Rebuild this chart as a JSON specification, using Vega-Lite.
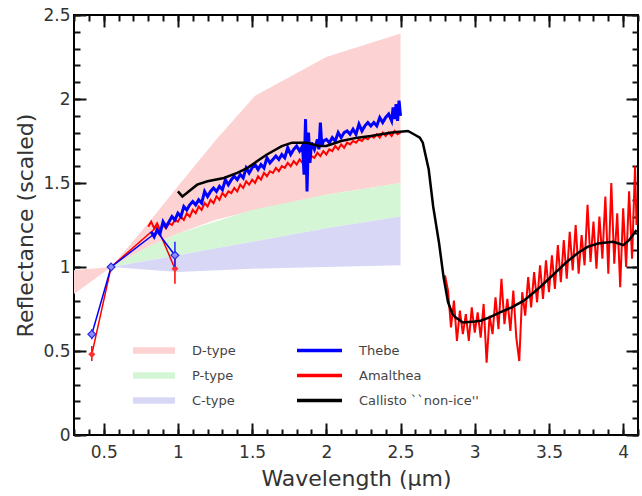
{
"$schema": "https://vega.github.io/schema/vega-lite/v6.json",
"width": 564, "height": 420,
"autosize": "none",
"padding": {"left": 74, "top": 15, "right": 4, "bottom": 61},
"config": {"view": {"stroke": "black", "strokeWidth": 2}},
"resolve": {"axis": {"x": "independent", "y": "independent"}},
"datasets": {
"bands": [
{"type":"D-type","x":0.30,"lo":0.84,"hi":0.98},
{"type":"D-type","x":0.55,"lo":1.0,"hi":1.0},
{"type":"D-type","x":0.8,"lo":1.12,"hi":1.26},
{"type":"D-type","x":1.0,"lo":1.2,"hi":1.48},
{"type":"D-type","x":1.25,"lo":1.28,"hi":1.75},
{"type":"D-type","x":1.52,"lo":1.34,"hi":2.02},
{"type":"D-type","x":2.0,"lo":1.43,"hi":2.25},
{"type":"D-type","x":2.5,"lo":1.5,"hi":2.39},
{"type":"P-type","x":0.55,"lo":1.0,"hi":1.0},
{"type":"P-type","x":0.8,"lo":1.04,"hi":1.12},
{"type":"P-type","x":1.0,"lo":1.07,"hi":1.2},
{"type":"P-type","x":1.5,"lo":1.15,"hi":1.34},
{"type":"P-type","x":2.0,"lo":1.23,"hi":1.43},
{"type":"P-type","x":2.5,"lo":1.3,"hi":1.5},
{"type":"C-type","x":0.55,"lo":1.0,"hi":1.0},
{"type":"C-type","x":1.0,"lo":0.97,"hi":1.07},
{"type":"C-type","x":1.5,"lo":0.99,"hi":1.15},
{"type":"C-type","x":2.0,"lo":1.0,"hi":1.23},
{"type":"C-type","x":2.5,"lo":1.01,"hi":1.3}
],
"spec": [
{"series":"Thebe","part":"bb","x":0.42,"y":0.6},
{"series":"Thebe","part":"bb","x":0.55,"y":1.0},
{"series":"Thebe","part":"bb","x":0.86,"y":1.21},
{"series":"Thebe","part":"bb","x":0.98,"y":1.07},
{"series":"Amalthea","part":"bb","x":0.42,"y":0.48},
{"series":"Amalthea","part":"bb","x":0.55,"y":1.0},
{"series":"Amalthea","part":"bb","x":0.86,"y":1.24},
{"series":"Amalthea","part":"bb","x":0.98,"y":0.99},
{"series":"Thebe","part":"s","x":0.82,"y":1.21},{"series":"Thebe","part":"s","x":0.84,"y":1.18},{"series":"Thebe","part":"s","x":0.86,"y":1.22},{"series":"Thebe","part":"s","x":0.88,"y":1.20},{"series":"Thebe","part":"s","x":0.90,"y":1.27},{"series":"Thebe","part":"s","x":0.92,"y":1.24},{"series":"Thebe","part":"s","x":0.94,"y":1.27},{"series":"Thebe","part":"s","x":0.96,"y":1.30},{"series":"Thebe","part":"s","x":0.98,"y":1.28},{"series":"Thebe","part":"s","x":1.00,"y":1.32},{"series":"Thebe","part":"s","x":1.02,"y":1.30},{"series":"Thebe","part":"s","x":1.04,"y":1.36},{"series":"Thebe","part":"s","x":1.06,"y":1.34},{"series":"Thebe","part":"s","x":1.08,"y":1.37},{"series":"Thebe","part":"s","x":1.10,"y":1.39},{"series":"Thebe","part":"s","x":1.12,"y":1.37},{"series":"Thebe","part":"s","x":1.14,"y":1.40},{"series":"Thebe","part":"s","x":1.16,"y":1.38},{"series":"Thebe","part":"s","x":1.18,"y":1.45},{"series":"Thebe","part":"s","x":1.20,"y":1.42},{"series":"Thebe","part":"s","x":1.22,"y":1.45},{"series":"Thebe","part":"s","x":1.24,"y":1.47},{"series":"Thebe","part":"s","x":1.26,"y":1.45},{"series":"Thebe","part":"s","x":1.28,"y":1.48},{"series":"Thebe","part":"s","x":1.30,"y":1.46},{"series":"Thebe","part":"s","x":1.32,"y":1.52},{"series":"Thebe","part":"s","x":1.34,"y":1.49},{"series":"Thebe","part":"s","x":1.36,"y":1.52},{"series":"Thebe","part":"s","x":1.38,"y":1.54},{"series":"Thebe","part":"s","x":1.40,"y":1.52},{"series":"Thebe","part":"s","x":1.42,"y":1.55},{"series":"Thebe","part":"s","x":1.44,"y":1.53},{"series":"Thebe","part":"s","x":1.46,"y":1.59},{"series":"Thebe","part":"s","x":1.48,"y":1.56},{"series":"Thebe","part":"s","x":1.50,"y":1.59},{"series":"Thebe","part":"s","x":1.52,"y":1.61},{"series":"Thebe","part":"s","x":1.54,"y":1.58},{"series":"Thebe","part":"s","x":1.56,"y":1.61},{"series":"Thebe","part":"s","x":1.58,"y":1.59},{"series":"Thebe","part":"s","x":1.60,"y":1.65},{"series":"Thebe","part":"s","x":1.62,"y":1.62},{"series":"Thebe","part":"s","x":1.64,"y":1.64},{"series":"Thebe","part":"s","x":1.66,"y":1.66},{"series":"Thebe","part":"s","x":1.68,"y":1.64},{"series":"Thebe","part":"s","x":1.70,"y":1.67},{"series":"Thebe","part":"s","x":1.72,"y":1.65},{"series":"Thebe","part":"s","x":1.74,"y":1.71},{"series":"Thebe","part":"s","x":1.76,"y":1.67},{"series":"Thebe","part":"s","x":1.78,"y":1.70},{"series":"Thebe","part":"s","x":1.80,"y":1.72},{"series":"Thebe","part":"s","x":1.82,"y":1.69},{"series":"Thebe","part":"s","x":1.84,"y":1.72},{"series":"Thebe","part":"s","x":1.85,"y":1.55},{"series":"Thebe","part":"s","x":1.86,"y":1.88},{"series":"Thebe","part":"s","x":1.87,"y":1.45},{"series":"Thebe","part":"s","x":1.88,"y":1.80},{"series":"Thebe","part":"s","x":1.89,"y":1.62},{"series":"Thebe","part":"s","x":1.90,"y":1.74},{"series":"Thebe","part":"s","x":1.92,"y":1.70},{"series":"Thebe","part":"s","x":1.94,"y":1.76},{"series":"Thebe","part":"s","x":1.95,"y":1.70},{"series":"Thebe","part":"s","x":1.96,"y":1.86},{"series":"Thebe","part":"s","x":1.97,"y":1.72},{"series":"Thebe","part":"s","x":1.98,"y":1.75},{"series":"Thebe","part":"s","x":2.00,"y":1.76},{"series":"Thebe","part":"s","x":2.02,"y":1.74},{"series":"Thebe","part":"s","x":2.04,"y":1.77},{"series":"Thebe","part":"s","x":2.06,"y":1.75},{"series":"Thebe","part":"s","x":2.08,"y":1.80},{"series":"Thebe","part":"s","x":2.10,"y":1.77},{"series":"Thebe","part":"s","x":2.12,"y":1.80},{"series":"Thebe","part":"s","x":2.14,"y":1.81},{"series":"Thebe","part":"s","x":2.16,"y":1.79},{"series":"Thebe","part":"s","x":2.18,"y":1.82},{"series":"Thebe","part":"s","x":2.20,"y":1.79},{"series":"Thebe","part":"s","x":2.22,"y":1.85},{"series":"Thebe","part":"s","x":2.24,"y":1.81},{"series":"Thebe","part":"s","x":2.26,"y":1.84},{"series":"Thebe","part":"s","x":2.28,"y":1.86},{"series":"Thebe","part":"s","x":2.30,"y":1.84},{"series":"Thebe","part":"s","x":2.32,"y":1.86},{"series":"Thebe","part":"s","x":2.34,"y":1.84},{"series":"Thebe","part":"s","x":2.36,"y":1.89},{"series":"Thebe","part":"s","x":2.38,"y":1.86},{"series":"Thebe","part":"s","x":2.40,"y":1.89},{"series":"Thebe","part":"s","x":2.42,"y":1.91},{"series":"Thebe","part":"s","x":2.44,"y":1.87},{"series":"Thebe","part":"s","x":2.45,"y":1.95},{"series":"Thebe","part":"s","x":2.46,"y":1.88},{"series":"Thebe","part":"s","x":2.47,"y":1.97},{"series":"Thebe","part":"s","x":2.48,"y":1.87},{"series":"Thebe","part":"s","x":2.49,"y":1.99},{"series":"Thebe","part":"s","x":2.50,"y":1.90},
{"series":"Amalthea","part":"s1","x":0.80,"y":1.24},{"series":"Amalthea","part":"s1","x":0.82,"y":1.27},{"series":"Amalthea","part":"s1","x":0.84,"y":1.23},{"series":"Amalthea","part":"s1","x":0.86,"y":1.26},{"series":"Amalthea","part":"s1","x":0.88,"y":1.22},{"series":"Amalthea","part":"s1","x":0.90,"y":1.25},{"series":"Amalthea","part":"s1","x":0.92,"y":1.23},{"series":"Amalthea","part":"s1","x":0.94,"y":1.26},{"series":"Amalthea","part":"s1","x":0.96,"y":1.25},{"series":"Amalthea","part":"s1","x":0.98,"y":1.28},{"series":"Amalthea","part":"s1","x":1.00,"y":1.27},{"series":"Amalthea","part":"s1","x":1.02,"y":1.30},{"series":"Amalthea","part":"s1","x":1.04,"y":1.28},{"series":"Amalthea","part":"s1","x":1.06,"y":1.32},{"series":"Amalthea","part":"s1","x":1.08,"y":1.30},{"series":"Amalthea","part":"s1","x":1.10,"y":1.34},{"series":"Amalthea","part":"s1","x":1.12,"y":1.32},{"series":"Amalthea","part":"s1","x":1.14,"y":1.36},{"series":"Amalthea","part":"s1","x":1.16,"y":1.34},{"series":"Amalthea","part":"s1","x":1.18,"y":1.38},{"series":"Amalthea","part":"s1","x":1.20,"y":1.36},{"series":"Amalthea","part":"s1","x":1.22,"y":1.40},{"series":"Amalthea","part":"s1","x":1.24,"y":1.38},{"series":"Amalthea","part":"s1","x":1.26,"y":1.42},{"series":"Amalthea","part":"s1","x":1.28,"y":1.40},{"series":"Amalthea","part":"s1","x":1.30,"y":1.44},{"series":"Amalthea","part":"s1","x":1.32,"y":1.42},{"series":"Amalthea","part":"s1","x":1.34,"y":1.45},{"series":"Amalthea","part":"s1","x":1.36,"y":1.44},{"series":"Amalthea","part":"s1","x":1.38,"y":1.47},{"series":"Amalthea","part":"s1","x":1.40,"y":1.45},{"series":"Amalthea","part":"s1","x":1.42,"y":1.49},{"series":"Amalthea","part":"s1","x":1.44,"y":1.47},{"series":"Amalthea","part":"s1","x":1.46,"y":1.51},{"series":"Amalthea","part":"s1","x":1.48,"y":1.49},{"series":"Amalthea","part":"s1","x":1.50,"y":1.52},{"series":"Amalthea","part":"s1","x":1.52,"y":1.50},{"series":"Amalthea","part":"s1","x":1.54,"y":1.54},{"series":"Amalthea","part":"s1","x":1.56,"y":1.52},{"series":"Amalthea","part":"s1","x":1.58,"y":1.56},{"series":"Amalthea","part":"s1","x":1.60,"y":1.54},{"series":"Amalthea","part":"s1","x":1.62,"y":1.57},{"series":"Amalthea","part":"s1","x":1.64,"y":1.56},{"series":"Amalthea","part":"s1","x":1.66,"y":1.59},{"series":"Amalthea","part":"s1","x":1.68,"y":1.57},{"series":"Amalthea","part":"s1","x":1.70,"y":1.60},{"series":"Amalthea","part":"s1","x":1.72,"y":1.59},{"series":"Amalthea","part":"s1","x":1.74,"y":1.62},{"series":"Amalthea","part":"s1","x":1.76,"y":1.60},{"series":"Amalthea","part":"s1","x":1.78,"y":1.63},{"series":"Amalthea","part":"s1","x":1.80,"y":1.61},{"series":"Amalthea","part":"s1","x":1.82,"y":1.64},{"series":"Amalthea","part":"s1","x":1.84,"y":1.62},{"series":"Amalthea","part":"s1","x":1.86,"y":1.66},{"series":"Amalthea","part":"s1","x":1.88,"y":1.63},{"series":"Amalthea","part":"s1","x":1.90,"y":1.66},{"series":"Amalthea","part":"s1","x":1.92,"y":1.65},{"series":"Amalthea","part":"s1","x":1.94,"y":1.68},{"series":"Amalthea","part":"s1","x":1.96,"y":1.66},{"series":"Amalthea","part":"s1","x":1.98,"y":1.69},{"series":"Amalthea","part":"s1","x":2.00,"y":1.67},{"series":"Amalthea","part":"s1","x":2.02,"y":1.70},{"series":"Amalthea","part":"s1","x":2.04,"y":1.69},{"series":"Amalthea","part":"s1","x":2.06,"y":1.72},{"series":"Amalthea","part":"s1","x":2.08,"y":1.70},{"series":"Amalthea","part":"s1","x":2.10,"y":1.73},{"series":"Amalthea","part":"s1","x":2.12,"y":1.71},{"series":"Amalthea","part":"s1","x":2.14,"y":1.74},{"series":"Amalthea","part":"s1","x":2.16,"y":1.73},{"series":"Amalthea","part":"s1","x":2.18,"y":1.75},{"series":"Amalthea","part":"s1","x":2.20,"y":1.74},{"series":"Amalthea","part":"s1","x":2.22,"y":1.76},{"series":"Amalthea","part":"s1","x":2.24,"y":1.75},{"series":"Amalthea","part":"s1","x":2.26,"y":1.77},{"series":"Amalthea","part":"s1","x":2.28,"y":1.76},{"series":"Amalthea","part":"s1","x":2.30,"y":1.78},{"series":"Amalthea","part":"s1","x":2.32,"y":1.77},{"series":"Amalthea","part":"s1","x":2.34,"y":1.79},{"series":"Amalthea","part":"s1","x":2.36,"y":1.77},{"series":"Amalthea","part":"s1","x":2.38,"y":1.80},{"series":"Amalthea","part":"s1","x":2.40,"y":1.78},{"series":"Amalthea","part":"s1","x":2.42,"y":1.80},{"series":"Amalthea","part":"s1","x":2.44,"y":1.78},{"series":"Amalthea","part":"s1","x":2.46,"y":1.81},{"series":"Amalthea","part":"s1","x":2.48,"y":1.79},{"series":"Amalthea","part":"s1","x":2.50,"y":1.80},
{"series":"Amalthea","part":"s2","x":2.80,"y":0.95},{"series":"Amalthea","part":"s2","x":2.82,"y":0.86},{"series":"Amalthea","part":"s2","x":2.84,"y":0.64},{"series":"Amalthea","part":"s2","x":2.86,"y":0.80},{"series":"Amalthea","part":"s2","x":2.88,"y":0.56},{"series":"Amalthea","part":"s2","x":2.90,"y":0.74},{"series":"Amalthea","part":"s2","x":2.92,"y":0.60},{"series":"Amalthea","part":"s2","x":2.94,"y":0.72},{"series":"Amalthea","part":"s2","x":2.96,"y":0.56},{"series":"Amalthea","part":"s2","x":2.98,"y":0.76},{"series":"Amalthea","part":"s2","x":3.00,"y":0.61},{"series":"Amalthea","part":"s2","x":3.02,"y":0.73},{"series":"Amalthea","part":"s2","x":3.04,"y":0.58},{"series":"Amalthea","part":"s2","x":3.06,"y":0.78},{"series":"Amalthea","part":"s2","x":3.08,"y":0.43},{"series":"Amalthea","part":"s2","x":3.10,"y":0.71},{"series":"Amalthea","part":"s2","x":3.12,"y":0.60},{"series":"Amalthea","part":"s2","x":3.14,"y":0.82},{"series":"Amalthea","part":"s2","x":3.16,"y":0.63},{"series":"Amalthea","part":"s2","x":3.18,"y":0.93},{"series":"Amalthea","part":"s2","x":3.20,"y":0.66},{"series":"Amalthea","part":"s2","x":3.22,"y":0.81},{"series":"Amalthea","part":"s2","x":3.24,"y":0.62},{"series":"Amalthea","part":"s2","x":3.26,"y":0.86},{"series":"Amalthea","part":"s2","x":3.28,"y":0.58},{"series":"Amalthea","part":"s2","x":3.30,"y":0.44},{"series":"Amalthea","part":"s2","x":3.32,"y":0.85},{"series":"Amalthea","part":"s2","x":3.34,"y":0.71},{"series":"Amalthea","part":"s2","x":3.36,"y":0.94},{"series":"Amalthea","part":"s2","x":3.38,"y":0.76},{"series":"Amalthea","part":"s2","x":3.40,"y":0.97},{"series":"Amalthea","part":"s2","x":3.42,"y":0.79},{"series":"Amalthea","part":"s2","x":3.44,"y":1.01},{"series":"Amalthea","part":"s2","x":3.46,"y":0.81},{"series":"Amalthea","part":"s2","x":3.48,"y":1.04},{"series":"Amalthea","part":"s2","x":3.50,"y":0.85},{"series":"Amalthea","part":"s2","x":3.52,"y":1.07},{"series":"Amalthea","part":"s2","x":3.54,"y":0.87},{"series":"Amalthea","part":"s2","x":3.56,"y":1.13},{"series":"Amalthea","part":"s2","x":3.58,"y":0.91},{"series":"Amalthea","part":"s2","x":3.60,"y":1.16},{"series":"Amalthea","part":"s2","x":3.62,"y":0.93},{"series":"Amalthea","part":"s2","x":3.64,"y":1.21},{"series":"Amalthea","part":"s2","x":3.66,"y":0.98},{"series":"Amalthea","part":"s2","x":3.68,"y":1.25},{"series":"Amalthea","part":"s2","x":3.70,"y":0.96},{"series":"Amalthea","part":"s2","x":3.72,"y":1.19},{"series":"Amalthea","part":"s2","x":3.74,"y":1.01},{"series":"Amalthea","part":"s2","x":3.76,"y":1.37},{"series":"Amalthea","part":"s2","x":3.78,"y":1.03},{"series":"Amalthea","part":"s2","x":3.80,"y":1.27},{"series":"Amalthea","part":"s2","x":3.82,"y":0.99},{"series":"Amalthea","part":"s2","x":3.84,"y":1.30},{"series":"Amalthea","part":"s2","x":3.86,"y":1.05},{"series":"Amalthea","part":"s2","x":3.88,"y":1.42},{"series":"Amalthea","part":"s2","x":3.90,"y":0.96},{"series":"Amalthea","part":"s2","x":3.92,"y":1.50},{"series":"Amalthea","part":"s2","x":3.94,"y":1.02},{"series":"Amalthea","part":"s2","x":3.96,"y":1.32},{"series":"Amalthea","part":"s2","x":3.98,"y":0.88},{"series":"Amalthea","part":"s2","x":4.00,"y":1.35},{"series":"Amalthea","part":"s2","x":4.02,"y":1.00},{"series":"Amalthea","part":"s2","x":4.04,"y":1.45},{"series":"Amalthea","part":"s2","x":4.06,"y":1.05},{"series":"Amalthea","part":"s2","x":4.08,"y":1.60},{"series":"Amalthea","part":"s2","x":4.09,"y":1.25},
{"series":"Callisto ``non-ice''","part":"c","x":1.00,"y":1.45},{"series":"Callisto ``non-ice''","part":"c","x":1.03,"y":1.42},{"series":"Callisto ``non-ice''","part":"c","x":1.06,"y":1.44},{"series":"Callisto ``non-ice''","part":"c","x":1.13,"y":1.49},{"series":"Callisto ``non-ice''","part":"c","x":1.2,"y":1.51},{"series":"Callisto ``non-ice''","part":"c","x":1.31,"y":1.53},{"series":"Callisto ``non-ice''","part":"c","x":1.4,"y":1.56},{"series":"Callisto ``non-ice''","part":"c","x":1.47,"y":1.59},{"series":"Callisto ``non-ice''","part":"c","x":1.55,"y":1.64},{"series":"Callisto ``non-ice''","part":"c","x":1.6,"y":1.67},{"series":"Callisto ``non-ice''","part":"c","x":1.7,"y":1.72},{"series":"Callisto ``non-ice''","part":"c","x":1.77,"y":1.74},{"series":"Callisto ``non-ice''","part":"c","x":1.87,"y":1.74},{"series":"Callisto ``non-ice''","part":"c","x":1.95,"y":1.72},{"series":"Callisto ``non-ice''","part":"c","x":2.0,"y":1.72},{"series":"Callisto ``non-ice''","part":"c","x":2.1,"y":1.75},{"series":"Callisto ``non-ice''","part":"c","x":2.21,"y":1.77},{"series":"Callisto ``non-ice''","part":"c","x":2.3,"y":1.78},{"series":"Callisto ``non-ice''","part":"c","x":2.44,"y":1.80},{"series":"Callisto ``non-ice''","part":"c","x":2.55,"y":1.81},{"series":"Callisto ``non-ice''","part":"c","x":2.59,"y":1.79},{"series":"Callisto ``non-ice''","part":"c","x":2.63,"y":1.77},{"series":"Callisto ``non-ice''","part":"c","x":2.65,"y":1.74},{"series":"Callisto ``non-ice''","part":"c","x":2.67,"y":1.66},{"series":"Callisto ``non-ice''","part":"c","x":2.69,"y":1.58},{"series":"Callisto ``non-ice''","part":"c","x":2.72,"y":1.36},{"series":"Callisto ``non-ice''","part":"c","x":2.76,"y":1.14},{"series":"Callisto ``non-ice''","part":"c","x":2.79,"y":0.94},{"series":"Callisto ``non-ice''","part":"c","x":2.82,"y":0.79},{"series":"Callisto ``non-ice''","part":"c","x":2.85,"y":0.72},{"series":"Callisto ``non-ice''","part":"c","x":2.87,"y":0.70},{"series":"Callisto ``non-ice''","part":"c","x":2.92,"y":0.67},{"series":"Callisto ``non-ice''","part":"c","x":3.0,"y":0.675},{"series":"Callisto ``non-ice''","part":"c","x":3.04,"y":0.68},{"series":"Callisto ``non-ice''","part":"c","x":3.1,"y":0.70},{"series":"Callisto ``non-ice''","part":"c","x":3.17,"y":0.73},{"series":"Callisto ``non-ice''","part":"c","x":3.25,"y":0.76},{"series":"Callisto ``non-ice''","part":"c","x":3.33,"y":0.80},{"series":"Callisto ``non-ice''","part":"c","x":3.4,"y":0.85},{"series":"Callisto ``non-ice''","part":"c","x":3.44,"y":0.88},{"series":"Callisto ``non-ice''","part":"c","x":3.5,"y":0.93},{"series":"Callisto ``non-ice''","part":"c","x":3.56,"y":0.98},{"series":"Callisto ``non-ice''","part":"c","x":3.62,"y":1.03},{"series":"Callisto ``non-ice''","part":"c","x":3.69,"y":1.08},{"series":"Callisto ``non-ice''","part":"c","x":3.76,"y":1.12},{"series":"Callisto ``non-ice''","part":"c","x":3.83,"y":1.14},{"series":"Callisto ``non-ice''","part":"c","x":3.93,"y":1.15},{"series":"Callisto ``non-ice''","part":"c","x":3.97,"y":1.14},{"series":"Callisto ``non-ice''","part":"c","x":4.0,"y":1.13},{"series":"Callisto ``non-ice''","part":"c","x":4.04,"y":1.16},{"series":"Callisto ``non-ice''","part":"c","x":4.09,"y":1.22}
],
"pts": [
{"series":"Thebe","x":0.42,"y":0.6,"lo":0.57,"hi":0.63},
{"series":"Thebe","x":0.55,"y":1.0,"lo":0.99,"hi":1.01},
{"series":"Thebe","x":0.98,"y":1.07,"lo":1.0,"hi":1.15},
{"series":"Amalthea","x":0.42,"y":0.48,"lo":0.44,"hi":0.53},
{"series":"Amalthea","x":0.98,"y":0.99,"lo":0.9,"hi":1.06}
]
},
"layer": [
{"data":{"name":"bands"},"mark":{"type":"area","opacity":1},
 "encoding":{
  "x":{"field":"x","type":"quantitative","scale":{"domain":[0.3,4.1],"nice":false,"zero":false},
   "axis":{"orient":"bottom","values":[0.5,1,1.5,2,2.5,3,3.5,4],"format":".1~f","grid":false,"domain":false,"ticks":true,"tickColor":"#111111","tickWidth":2,"offset":-12,"tickSize":12,"labelFont":"DejaVu Sans","labelFontSize":17,"labelColor":"#333333","labelPadding":9,"labelFlush":false,"labelOverlap":false,"title":"Wavelength (µm)","titleFont":"DejaVu Sans","titleFontSize":22,"titleFontWeight":"normal","titleColor":"#333333","titlePadding":8}},
  "y":{"field":"lo","type":"quantitative","scale":{"domain":[0,2.5],"nice":false,"zero":false},
   "axis":{"orient":"left","values":[0,0.5,1,1.5,2,2.5],"format":".1~f","grid":false,"domain":false,"ticks":true,"tickColor":"#111111","tickWidth":2,"offset":-12,"tickSize":12,"labelFont":"DejaVu Sans","labelFontSize":17,"labelColor":"#333333","labelPadding":4,"labelFlush":false,"labelOverlap":false,"title":"Reflectance (scaled)","titleFont":"DejaVu Sans","titleFontSize":22,"titleFontWeight":"normal","titleColor":"#333333","titlePadding":5}},
  "y2":{"field":"hi"},
  "fill":{"field":"type","type":"nominal","scale":{"domain":["D-type","P-type","C-type"],"range":["#fcd2d2","#d4f6d4","#d8d8f6"]},
   "legend":{"orient":"none","legendX":59,"legendY":328,"title":null,"symbolType":"M-1,-0.16H1V0.16H-1Z","symbolSize":1764,"symbolStrokeWidth":0,"symbolOpacity":1,"clipHeight":15,"rowPadding":10,"labelOffset":17,"labelFont":"DejaVu Sans","labelFontSize":13,"labelColor":"#444","padding":0}}
 }},
{"data":{"name":"spec"},"transform":[{"filter":"datum.part=='bb' && datum.series=='Amalthea'"}],"mark":{"type":"line","strokeWidth":1.5},
 "encoding":{
  "x":{"field":"x","type":"quantitative","axis":{"orient":"top","values":[0.3,0.4,0.5,0.6,0.7,0.8,0.9,1,1.1,1.2,1.3,1.4,1.5,1.6,1.7,1.8,1.9,2,2.1,2.2,2.3,2.4,2.5,2.6,2.7,2.8,2.9,3,3.1,3.2,3.3,3.4,3.5,3.6,3.7,3.8,3.9,4,4.1],"labels":false,"title":null,"grid":false,"domain":false,"ticks":true,"tickColor":"#111111","tickWidth":2,"offset":-6,"tickSize":6}},
  "y":{"field":"y","type":"quantitative","axis":{"orient":"right","values":[0,0.1,0.2,0.3,0.4,0.5,0.6,0.7,0.8,0.9,1,1.1,1.2,1.3,1.4,1.5,1.6,1.7,1.8,1.9,2,2.1,2.2,2.3,2.4,2.5],"labels":false,"title":null,"grid":false,"domain":false,"ticks":true,"tickColor":"#111111","tickWidth":2,"offset":-6,"tickSize":6}},
  "stroke":{"field":"series","type":"nominal"}}},
{"data":{"name":"spec"},"transform":[{"filter":"datum.part=='bb' && datum.series=='Thebe'"}],"mark":{"type":"line","strokeWidth":1.5},
 "encoding":{
  "x":{"field":"x","type":"quantitative","axis":{"orient":"bottom","values":[0.3,0.4,0.5,0.6,0.7,0.8,0.9,1,1.1,1.2,1.3,1.4,1.5,1.6,1.7,1.8,1.9,2,2.1,2.2,2.3,2.4,2.5,2.6,2.7,2.8,2.9,3,3.1,3.2,3.3,3.4,3.5,3.6,3.7,3.8,3.9,4,4.1],"labels":false,"title":null,"grid":false,"domain":false,"ticks":true,"tickColor":"#111111","tickWidth":2,"offset":-6,"tickSize":6}},
  "y":{"field":"y","type":"quantitative","axis":{"orient":"left","values":[0,0.1,0.2,0.3,0.4,0.5,0.6,0.7,0.8,0.9,1,1.1,1.2,1.3,1.4,1.5,1.6,1.7,1.8,1.9,2,2.1,2.2,2.3,2.4,2.5],"labels":false,"title":null,"grid":false,"domain":false,"ticks":true,"tickColor":"#111111","tickWidth":2,"offset":-6,"tickSize":6}},
  "stroke":{"field":"series","type":"nominal"}}},
{"data":{"name":"spec"},"transform":[{"filter":"datum.part!='bb' && datum.series=='Amalthea'"}],"mark":{"type":"line","strokeWidth":2},
 "encoding":{"x":{"field":"x","type":"quantitative","axis":null},"y":{"field":"y","type":"quantitative","axis":null},"detail":{"field":"part"},"stroke":{"field":"series","type":"nominal"}}},
{"data":{"name":"spec"},"transform":[{"filter":"datum.part!='bb' && datum.series=='Thebe'"}],"mark":{"type":"line","strokeWidth":3},
 "encoding":{"x":{"field":"x","type":"quantitative","axis":null},"y":{"field":"y","type":"quantitative","axis":null},"stroke":{"field":"series","type":"nominal"}}},
{"data":{"name":"spec"},"transform":[{"filter":"datum.part=='c'"}],"mark":{"type":"line","strokeWidth":2.5},
 "encoding":{
  "x":{"field":"x","type":"quantitative","axis":{"orient":"top","values":[0.5,1,1.5,2,2.5,3,3.5,4],"labels":false,"title":null,"grid":false,"domain":false,"ticks":true,"tickColor":"#111111","tickWidth":2,"offset":-12,"tickSize":12}},
  "y":{"field":"y","type":"quantitative","axis":{"orient":"right","values":[0,0.5,1,1.5,2,2.5],"labels":false,"title":null,"grid":false,"domain":false,"ticks":true,"tickColor":"#111111","tickWidth":2,"offset":-12,"tickSize":12}},
  "stroke":{"field":"series","type":"nominal","scale":{"domain":["Thebe","Amalthea","Callisto ``non-ice''"],"range":["#0000ff","#ff0000","#000000"]},
   "legend":{"orient":"none","legendX":221,"legendY":328,"title":null,"symbolType":"stroke","symbolSize":2025,"symbolStrokeWidth":3.5,"clipHeight":15,"rowPadding":10,"labelOffset":15,"labelFont":"DejaVu Sans","labelFontSize":13,"labelColor":"#444","padding":0}}
 }},
{"data":{"name":"pts"},"transform":[{"filter":"datum.series=='Amalthea'"}],"mark":{"type":"rule","color":"#ff0000","strokeWidth":1.5},
 "encoding":{"x":{"field":"x","type":"quantitative","axis":null},"y":{"field":"lo","type":"quantitative","axis":null},"y2":{"field":"hi"}}},
{"data":{"name":"pts"},"transform":[{"filter":"datum.series=='Amalthea'"}],"mark":{"type":"point","shape":"diamond","filled":true,"color":"#ff3030","size":50,"opacity":1},
 "encoding":{"x":{"field":"x","type":"quantitative","axis":null},"y":{"field":"y","type":"quantitative","axis":null}}},
{"data":{"name":"pts"},"transform":[{"filter":"datum.series=='Thebe'"}],"mark":{"type":"rule","color":"#2020ff","strokeWidth":1.5},
 "encoding":{"x":{"field":"x","type":"quantitative","axis":null},"y":{"field":"lo","type":"quantitative","axis":null},"y2":{"field":"hi"}}},
{"data":{"name":"pts"},"transform":[{"filter":"datum.series=='Thebe'"}],"mark":{"type":"point","shape":"diamond","filled":true,"fill":"#8c8cff","stroke":"#2a2ae0","strokeWidth":1.2,"size":60,"opacity":1},
 "encoding":{"x":{"field":"x","type":"quantitative","axis":null},"y":{"field":"y","type":"quantitative","axis":null}}}
]
}
